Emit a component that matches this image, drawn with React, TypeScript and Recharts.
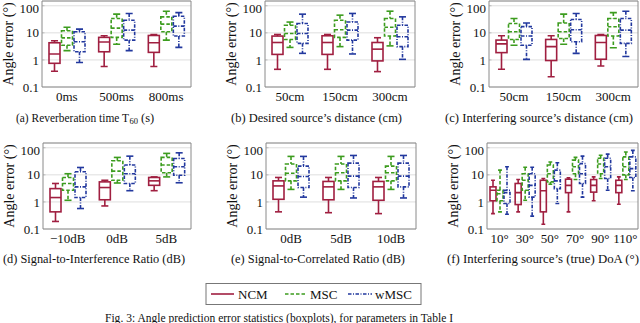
import { ComposedChart, Bar, XAxis, YAxis, CartesianGrid, ReferenceArea } from "recharts";

// each box is [min, q1, median, q3, max] in degrees
const reverbCats = ["0ms", "500ms", "800ms"];
const reverbNCM = [[0.38, 0.75, 1.66, 4.3, 5.1], [0.57, 2.0, 4.6, 6.8, 7.8], [0.57, 1.9, 4.3, 8.0, 8.7]];
const reverbMSC = [[2.2, 3.5, 6.5, 12, 16], [3.8, 6.8, 15, 34, 49], [5.4, 11, 21, 39, 63]];
const reverbWMSC = [[0.8, 2.0, 4.7, 11, 13.7], [2.2, 5.4, 12.6, 29, 52], [2.9, 7.6, 17.7, 41, 56]];

const desiredCats = ["50cm", "150cm", "300cm"];
const desiredNCM = [[0.45, 1.6, 4.4, 7.6, 8.7], [0.45, 1.6, 4.4, 7.8, 8.7], [0.37, 0.92, 2.5, 4.4, 6.6]];
const desiredMSC = [[2.9, 5.7, 9.5, 19, 25], [3.1, 6.8, 13, 29, 45], [3.3, 7.6, 16, 34, 63]];
const desiredWMSC = [[1.75, 4.1, 9.5, 22, 49], [1.66, 5.4, 12.6, 25, 52], [1.05, 3.1, 7.2, 19, 39]];

const interfCats = ["50cm", "150cm", "300cm"];
const interfNCM = [[0.45, 1.86, 3.9, 5.4, 7.8], [0.24, 0.95, 3.1, 5.7, 7.8], [0.6, 1.06, 4.4, 8.0, 8.7]];
const interfMSC = [[3.5, 5.7, 11, 22, 34], [3.8, 6.2, 11, 23, 49], [2.8, 7.6, 16.7, 34, 56]];
const interfWMSC = [[1.05, 3.5, 7.6, 17, 23], [1.75, 4.7, 13, 31, 52], [1.33, 4.1, 12.6, 34, 63]];

const sirCats = ["\u221210dB", "0dB", "5dB"];
const sirNCM = [[0.19, 0.43, 1.45, 3.1, 4.8], [0.71, 1.2, 3.4, 5.5, 6.3], [2.6, 4.1, 6.0, 8.0, 8.4]];
const sirMSC = [[1.15, 2.7, 4.8, 8.0, 11], [5.0, 6.3, 13.7, 33, 44], [8.4, 11.9, 23, 44, 62]];
const sirWMSC = [[0.57, 1.45, 3.6, 13, 18.7], [2.6, 4.8, 11, 23, 49], [5.1, 9.7, 20, 40, 65]];

const scrCats = ["0dB", "5dB", "10dB"];
const scrNCM = [[0.43, 1.25, 3.9, 6.0, 8.0], [0.4, 1.2, 3.6, 5.7, 8.0], [0.37, 1.15, 3.6, 5.7, 8.0]];
const scrMSC = [[2.9, 6.0, 11.5, 25, 48], [2.9, 6.0, 12, 25, 48], [2.9, 6.0, 12, 21, 48]];
const scrWMSC = [[1.5, 3.4, 8.7, 21, 48], [1.4, 3.4, 9.0, 27, 52], [1.4, 3.6, 9.0, 27, 52]];

const doaCats = ["10\u00b0", "30\u00b0", "50\u00b0", "70\u00b0", "90\u00b0", "110\u00b0"];
const doaNCM = [
  [0.37, 1.1, 2.7, 3.6, 6.3], [0.43, 0.8, 2.2, 4.8, 6.7], [0.15, 0.43, 2.6, 6.3, 7.3],
  [0.43, 2.2, 4.1, 6.9, 7.7], [1.1, 2.3, 4.1, 6.7, 8.4], [0.82, 2.2, 4.1, 6.3, 8.4],
];
const doaMSC = [
  [0.43, 1.1, 2.0, 2.7, 15], [1.15, 2.7, 6.3, 11, 19], [4.5, 5.5, 11, 23, 30],
  [6.7, 11, 20, 35, 44], [7.3, 11, 25, 41, 53], [6.7, 10, 20, 46, 70],
];
const doaWMSC = [
  [0.35, 0.87, 2.2, 2.7, 20], [0.3, 1.5, 4.1, 11, 19], [0.87, 3.1, 6.0, 15, 28],
  [1.5, 4.8, 11, 26, 49], [2.7, 7.3, 20, 41, 58], [2.6, 8.0, 17, 46, 80],
];

const yTicks = [0.1, 1, 10, 100];
const minorTicks = [
  0.2, 0.3, 0.4, 0.5, 0.6, 0.7, 0.8, 0.9, 1, 2, 3, 4, 5, 6, 7, 8, 9, 10,
  20, 30, 40, 50, 60, 70, 80, 90, 100,
];

const SERIF = "'Liberation Serif', 'Times New Roman', serif";
const COLORS: Record<string, string> = { ncm: "#a01f40", msc: "#3c9c1e", wmsc: "#22389e" };
const DASH: Record<string, string | undefined> = { ncm: undefined, msc: "3.5 2", wmsc: "3.5 1.5 1 1.5" };

function BoxShape(props: any) {
  const { x, y, width, height, payload, series } = props;
  const s = payload?.[series];
  if (!s || width == null) return null;
  const top = Math.min(y, y + height);
  const bot = Math.max(y, y + height);
  const hi = Math.log10(s[4]);
  const lo = Math.log10(s[0]);
  const py = (v: number) => top + ((hi - Math.log10(v)) / (hi - lo)) * (bot - top);
  const cx = x + width / 2;
  const cap = width * 0.32;
  const line = { stroke: COLORS[series], strokeWidth: 1.6, strokeDasharray: DASH[series], fill: "none" };
  return (
    <g>
      <line x1={cx} x2={cx} y1={py(s[4])} y2={py(s[3])} {...line} />
      <line x1={cx} x2={cx} y1={py(s[1])} y2={py(s[0])} {...line} />
      <line x1={cx - cap} x2={cx + cap} y1={py(s[4])} y2={py(s[4])} {...line} strokeDasharray={undefined} />
      <line x1={cx - cap} x2={cx + cap} y1={py(s[0])} y2={py(s[0])} {...line} strokeDasharray={undefined} />
      <rect x={x} y={py(s[3])} width={width} height={py(s[1]) - py(s[3])} {...line} />
      <line x1={x} x2={x + width} y1={py(s[2])} y2={py(s[2])} {...line} />
    </g>
  );
}

function YLabel(props: any) {
  const vb = props.viewBox || { x: 0, y: 0, height: 0 };
  const cx = vb.x + 6;
  const cy = vb.y + vb.height / 2;
  return (
    <text
      x={cx}
      y={cy}
      transform={`rotate(-90 ${cx} ${cy})`}
      textAnchor="middle"
      dominantBaseline="central"
      fontFamily={SERIF}
      fontSize={14}
      fill="#111"
    >
      Angle error (°)
    </text>
  );
}

const noTick = () => <g />;

interface PanelProps {
  left: number;
  top: number;
  w: number;
  h: number;
  cats: string[];
  ncm: number[][];
  msc: number[][];
  wmsc: number[][];
  barSize: number;
  barGap: number;
}

function Panel({ left, top, w, h, cats, ncm, msc, wmsc, barSize, barGap }: PanelProps) {
  const data = cats.map((c, i) => ({ cat: c, ncm: ncm[i], msc: msc[i], wmsc: wmsc[i] }));
  const tickStyle = { fontSize: 13, fontFamily: SERIF, fill: "#111" };
  return (
    <div style={{ position: "absolute", left: left - 40, top: top - 1 }}>
      <ComposedChart
        width={w + 41}
        height={h + 24}
        data={data}
        margin={{ top: 1, right: 1, bottom: 0, left: 0 }}
        barSize={barSize}
        barGap={barGap}
      >
        <CartesianGrid vertical={false} stroke="#dedede" strokeWidth={1} />
        <XAxis
          dataKey="cat"
          interval={0}
          tickLine={false}
          axisLine={false}
          tickSize={0}
          tickMargin={5}
          height={23}
          tick={tickStyle}
        />
        <YAxis
          scale="log"
          domain={[0.1, 150]}
          allowDataOverflow
          ticks={yTicks}
          tickFormatter={(v: number) => String(v)}
          width={40}
          tickLine={false}
          axisLine={false}
          tickSize={0}
          tickMargin={3}
          tick={tickStyle}
          label={{ content: YLabel }}
        />
        <YAxis
          yAxisId="minor"
          scale="log"
          domain={[0.1, 150]}
          allowDataOverflow
          ticks={minorTicks}
          mirror
          width={1}
          axisLine={false}
          tickSize={2.5}
          tickLine={{ stroke: "#9a9a9a", strokeWidth: 0.6 }}
          tick={noTick}
        />
        <ReferenceArea y1={0.1} y2={150} stroke="#8a8a8a" strokeWidth={1} fill="none" ifOverflow="visible" />
        <Bar dataKey={(d: any) => [d.ncm[0], d.ncm[4]]} isAnimationActive={false} shape={(p: any) => <BoxShape {...p} series="ncm" />} />
        <Bar dataKey={(d: any) => [d.msc[0], d.msc[4]]} isAnimationActive={false} shape={(p: any) => <BoxShape {...p} series="msc" />} />
        <Bar dataKey={(d: any) => [d.wmsc[0], d.wmsc[4]]} isAnimationActive={false} shape={(p: any) => <BoxShape {...p} series="wmsc" />} />
      </ComposedChart>
    </div>
  );
}

function Caption({ x, y, len, children }: { x: number; y: number; len: number; children: any }) {
  return (
    <text x={x} y={y} textLength={len} lengthAdjust="spacingAndGlyphs" fontFamily={SERIF} fontSize={12.5} fill="#111" dominantBaseline="central">
      {children}
    </text>
  );
}

export default function App() {
  return (
    <div style={{ position: "absolute", left: 0, top: 0, width: 640, height: 323, background: "#fff", overflow: "hidden" }}>
      <Panel left={42} top={1} w={149} h={86} cats={reverbCats} ncm={reverbNCM} msc={reverbMSC} wmsc={reverbWMSC} barSize={11} barGap={1.5} />
      <Panel left={265} top={1} w={150} h={86} cats={desiredCats} ncm={desiredNCM} msc={desiredMSC} wmsc={desiredWMSC} barSize={11} barGap={1.5} />
      <Panel left={489} top={1} w={149} h={86} cats={interfCats} ncm={interfNCM} msc={interfMSC} wmsc={interfWMSC} barSize={11} barGap={1.5} />
      <Panel left={43} top={143} w={148} h={86} cats={sirCats} ncm={sirNCM} msc={sirMSC} wmsc={sirWMSC} barSize={11} barGap={1.5} />
      <Panel left={266} top={143} w={150} h={86} cats={scrCats} ncm={scrNCM} msc={scrMSC} wmsc={scrWMSC} barSize={11} barGap={1.5} />
      <Panel left={487} top={143} w={151} h={86} cats={doaCats} ncm={doaNCM} msc={doaMSC} wmsc={doaWMSC} barSize={6} barGap={1} />

      <svg width={640} height={323} style={{ position: "absolute", left: 0, top: 0, pointerEvents: "none" }}>
        <text x={16} y={118} textLength={113} lengthAdjust="spacingAndGlyphs" fontFamily={SERIF} fontSize={12.5} fill="#111" dominantBaseline="central">
          (a) Reverberation time T
        </text>
        <text x={129.5} y={121} fontFamily={SERIF} fontSize={8.5} fill="#111" dominantBaseline="central">60</text>
        <text x={141} y={118} fontFamily={SERIF} fontSize={12.5} fill="#111" dominantBaseline="central">(s)</text>
        <Caption x={231} y={118} len={171}>(b) Desired source’s distance (cm)</Caption>
        <Caption x={445} y={118} len={188}>(c) Interfering source’s distance (cm)</Caption>
        <Caption x={3} y={259} len={182}>(d) Signal-to-Interference Ratio (dB)</Caption>
        <Caption x={231} y={259} len={174}>(e) Signal-to-Correlated Ratio (dB)</Caption>
        <Caption x={447} y={259} len={192}>(f) Interfering source’s (true) DoA (°)</Caption>

        <rect x={206} y={283.5} width={215} height={21} fill="#fff" stroke="#777" strokeWidth={1} />
        <line x1={211} x2={234} y1={294} y2={294} stroke={COLORS.ncm} strokeWidth={1.6} />
        <text x={238} y={294} fontFamily={SERIF} fontSize={13} fill="#111" dominantBaseline="central">NCM</text>
        <line x1={285} x2={307} y1={294} y2={294} stroke={COLORS.msc} strokeWidth={1.6} strokeDasharray={DASH.msc} />
        <text x={310} y={294} fontFamily={SERIF} fontSize={13} fill="#111" dominantBaseline="central">MSC</text>
        <line x1={348} x2={372} y1={294} y2={294} stroke={COLORS.wmsc} strokeWidth={1.6} strokeDasharray={DASH.wmsc} />
        <text x={375} y={294} fontFamily={SERIF} fontSize={13} fill="#111" dominantBaseline="central">wMSC</text>

        <text x={105} y={322} textLength={348} lengthAdjust="spacingAndGlyphs" fontFamily={SERIF} fontSize={13.5} fill="#111">
          Fig. 3: Angle prediction error statistics (boxplots), for parameters in Table I
        </text>
      </svg>
    </div>
  );
}
